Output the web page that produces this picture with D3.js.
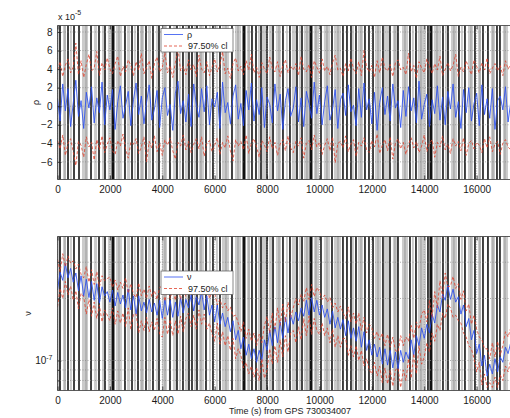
<!DOCTYPE html>
<html>
<head>
<meta charset="utf-8">
<script src="https://cdn.jsdelivr.net/npm/d3@7/dist/d3.min.js"></script>
<style>
  html, body { margin: 0; padding: 0; background: #fff; }
  svg { display: block; }
  text { font-family: "Liberation Sans", Arial, Helvetica, sans-serif; fill: #1a1a1a; }
</style>
</head>
<body>
<svg id="chart" width="510" height="418"></svg>
<script>
// ---- data -------------------------------------------------------------
// sample spacing of the time series (s)
const sampleStep = 100;

// rho estimate (x 1e-5), one value per sample
const rho = [
0.8,-1.6,2.4,-0.5,1.9,-2.2,0.3,2.8,-1.1,0.6,
-2.4,1.5,-0.2,2.1,-1.8,0.9,-0.7,2.6,-2.0,1.2,
-0.4,1.8,-2.5,0.5,2.2,-1.3,0.1,1.6,-2.1,0.7,
2.5,-0.9,1.1,-1.9,0.4,2.3,-1.5,-0.3,1.7,-2.3,
0.9,2.0,-1.0,0.2,-2.6,1.4,2.7,-0.8,0.6,-1.7,
1.3,-2.2,2.4,0.1,-1.2,1.9,-0.6,2.2,-2.0,0.8,
-0.1,1.5,-2.4,2.6,-0.7,0.4,-1.9,1.1,2.3,-1.4,
0.3,-2.1,1.7,-0.4,2.5,-1.6,0.7,-0.9,2.0,-2.3,
1.0,0.2,-1.8,2.4,-0.5,1.3,-2.5,0.6,1.9,-1.1,
-0.2,2.1,-1.7,0.9,-2.2,1.6,0.3,-1.3,2.6,-0.8,
1.2,-2.0,0.5,2.2,-1.5,-0.3,1.8,-2.4,0.7,1.4,
-1.0,2.3,-0.6,0.1,-2.1,1.9,-1.2,2.5,-0.4,0.8,
-1.9,1.5,-2.6,0.4,2.0,-0.9,1.1,-1.6,2.4,-0.2,
0.6,-2.3,1.7,-1.1,2.1,-0.5,0.9,-1.8,2.7,-1.4,
0.2,1.3,-2.2,0.7,-0.8,2.2,-1.5,1.0,-2.0,1.6,
-0.3,2.4,-1.2,0.5,-2.4,1.8,-0.7,2.0,-1.6,0.3,
1.4,-2.1,2.3,-0.9,0.8,-1.3,1.9,-2.5,0.6,1.1,
-0.4,2.1,-1.7,0.4
];
// upper 97.5% confidence limit on rho (x 1e-5)
const rhoHi = [
3.9,4.8,3.2,4.4,5.1,3.6,4.2,6.8,3.4,4.9,
3.1,4.5,5.6,3.8,4.1,5.9,3.3,4.7,3.9,5.2,
4.0,3.5,4.6,5.4,3.2,4.3,3.7,5.0,4.4,3.3,
4.8,3.9,5.7,3.5,4.2,4.9,3.0,4.6,5.3,3.7,
4.1,5.8,3.6,4.4,3.1,4.7,6.2,3.8,4.3,3.4,
5.0,3.9,4.5,3.2,5.5,4.0,3.6,4.8,3.3,4.2,
5.1,3.7,4.4,5.9,3.5,4.1,3.0,4.6,5.2,3.8,
4.3,3.4,4.9,3.9,5.6,3.6,4.2,3.1,4.7,4.0,
3.5,5.3,4.1,3.7,4.8,3.2,4.4,5.0,3.6,4.3,
3.9,4.6,3.3,5.4,4.0,3.7,4.5,3.1,4.9,4.2,
3.6,5.1,3.8,4.3,3.4,4.7,5.5,3.9,4.1,3.2,
4.6,3.8,5.2,4.0,3.5,4.8,3.3,6.0,4.2,3.7,
4.4,3.1,4.9,3.6,5.3,4.1,3.8,4.5,3.2,4.7,
5.0,3.9,4.2,3.4,5.7,3.7,4.4,3.0,4.8,4.1,
3.6,5.1,4.3,3.5,4.6,3.9,5.4,3.3,4.0,4.7,
3.8,4.4,5.6,3.2,4.2,3.7,4.9,4.1,3.4,5.0,
4.3,3.6,4.7,3.9,5.2,3.5,4.1,4.6,3.8,4.4,
3.3,4.9,4.0,4.5
];
// lower 97.5% confidence limit on rho (x 1e-5)
const rhoLo = [
-3.7,-4.6,-3.1,-5.3,-4.0,-3.5,-4.9,-6.4,-3.8,-4.2,
-5.5,-3.3,-4.4,-3.9,-5.8,-3.6,-4.7,-3.2,-5.0,-4.1,
-3.4,-4.8,-5.2,-3.7,-4.3,-3.0,-4.6,-5.6,-3.9,-4.1,
-3.5,-5.1,-4.4,-3.3,-6.0,-3.8,-4.5,-3.2,-4.9,-4.0,
-5.3,-3.6,-4.2,-3.4,-4.8,-5.7,-3.9,-4.3,-3.1,-4.7,
-3.8,-5.0,-4.1,-3.5,-4.6,-3.3,-5.4,-4.0,-3.7,-4.9,
-4.2,-3.4,-5.2,-3.9,-4.5,-3.2,-4.8,-5.9,-3.6,-4.3,
-3.8,-4.7,-3.1,-5.1,-4.0,-3.5,-4.4,-5.5,-3.7,-4.2,
-4.9,-3.3,-4.6,-3.9,-5.3,-4.1,-3.6,-4.8,-3.2,-4.5,
-5.0,-3.8,-4.3,-3.4,-5.6,-4.0,-3.7,-4.7,-3.1,-4.4,
-3.9,-5.2,-4.2,-3.5,-4.8,-3.3,-6.1,-4.0,-3.8,-4.5,
-3.2,-4.9,-4.1,-3.6,-5.4,-3.9,-4.3,-3.4,-4.7,-5.0,
-3.7,-4.4,-3.0,-5.1,-4.2,-3.6,-4.8,-3.3,-5.7,-4.0,
-3.5,-4.6,-3.9,-5.2,-4.1,-3.4,-4.5,-3.8,-5.0,-4.3,
-3.1,-4.9,-4.0,-3.6,-5.5,-3.9,-4.4,-3.2,-4.7,-4.1,
-5.1,-3.5,-4.3,-3.8,-4.8,-3.4,-5.3,-4.0,-3.7,-4.6,
-3.9,-4.2,-5.0,-3.5,-4.5,-3.3,-4.9,-4.1,-3.8,-5.2,
-4.0,-3.6,-4.4,-4.7
];

// nu estimate (x 1e-7)
const nu = [
2.20,2.68,2.45,2.95,2.52,2.80,2.40,2.66,2.18,2.58,
2.05,2.48,2.02,2.42,1.96,2.36,1.90,2.28,2.06,2.16,
1.92,2.20,1.84,2.14,1.88,2.08,1.80,2.22,1.76,2.06,
1.68,2.06,1.74,1.92,1.70,1.98,1.72,1.90,1.66,1.96,
1.60,1.98,1.66,1.96,1.62,1.92,1.64,2.02,1.70,1.98,
1.80,2.08,1.74,2.04,1.86,2.16,1.76,2.06,1.66,1.86,
1.54,1.86,1.50,1.70,1.46,1.62,1.38,1.56,1.26,1.40,
1.14,1.30,1.06,1.20,1.02,1.14,0.98,1.12,1.00,1.26,
1.12,1.40,1.18,1.46,1.22,1.54,1.28,1.62,1.36,1.66,
1.50,1.72,1.56,1.80,1.64,1.96,1.66,2.02,1.72,1.96,
1.66,1.86,1.62,1.78,1.50,1.74,1.44,1.62,1.42,1.58,
1.32,1.56,1.28,1.44,1.24,1.46,1.16,1.38,1.12,1.26,
1.06,1.20,1.04,1.16,0.96,1.14,0.95,1.12,0.92,1.10,
0.91,1.12,0.98,1.10,1.02,1.26,1.06,1.32,1.18,1.44,
1.28,1.50,1.36,1.68,1.52,1.86,1.72,2.10,1.96,2.32,
1.98,2.22,1.92,2.04,1.68,1.86,1.46,1.60,1.26,1.40,
1.08,1.20,0.94,1.06,0.84,0.96,0.86,1.02,0.88,1.04,
0.98,1.16,1.08,1.22
];
// upper 97.5% confidence limit on nu (x 1e-7)
const nuHi = [
3.10,2.70,3.30,2.85,3.22,2.96,3.05,2.78,2.94,2.62,
2.52,2.86,2.40,2.76,2.34,2.70,2.28,2.58,2.44,2.50,
2.54,2.26,2.46,2.20,2.40,2.24,2.52,2.12,2.36,2.10,
2.02,2.38,2.06,2.22,2.00,2.30,2.04,2.18,1.98,2.26,
2.30,1.94,2.24,2.00,2.22,1.96,2.34,1.98,2.28,2.04,
2.16,2.40,2.08,2.36,2.20,2.48,2.10,2.38,2.00,2.16,
2.14,1.86,1.98,1.80,1.90,1.74,1.82,1.64,1.66,1.52,
1.38,1.54,1.28,1.42,1.24,1.36,1.18,1.34,1.22,1.48,
1.64,1.36,1.70,1.42,1.80,1.48,1.88,1.54,1.92,1.62,
1.80,2.00,1.86,2.10,1.94,2.26,1.98,2.34,2.04,2.26,
2.16,1.98,2.08,1.92,2.02,1.80,1.90,1.72,1.84,1.70,
1.60,1.82,1.54,1.70,1.50,1.70,1.40,1.62,1.36,1.50,
1.44,1.28,1.38,1.26,1.36,1.18,1.34,1.16,1.30,1.12,
1.10,1.32,1.18,1.30,1.24,1.48,1.28,1.54,1.42,1.68,
1.76,1.54,1.96,1.62,2.16,1.80,2.44,2.02,2.66,2.28,
2.30,2.56,2.24,2.36,1.98,2.18,1.74,1.88,1.50,1.66,
1.42,1.30,1.26,1.14,1.14,1.02,1.22,1.04,1.24,1.06,
1.18,1.38,1.30,1.44
];
// lower 97.5% confidence limit on nu (x 1e-7)
const nuLo = [
1.82,2.24,2.00,2.42,2.08,2.30,1.96,2.18,1.78,2.12,
2.04,1.68,1.98,1.64,1.92,1.60,1.86,1.54,1.76,1.66,
1.56,1.80,1.50,1.74,1.52,1.70,1.46,1.80,1.42,1.68,
1.68,1.36,1.56,1.40,1.62,1.38,1.54,1.40,1.60,1.34,
1.30,1.62,1.34,1.58,1.32,1.56,1.34,1.64,1.38,1.60,
1.70,1.46,1.66,1.42,1.76,1.50,1.68,1.42,1.52,1.34,
1.24,1.52,1.20,1.38,1.18,1.32,1.12,1.28,1.02,1.14,
1.06,0.92,0.98,0.86,0.94,0.83,0.92,0.80,1.02,0.82,
0.90,1.14,0.96,1.18,0.98,1.26,1.04,1.32,1.10,1.36,
1.40,1.22,1.46,1.26,1.60,1.32,1.64,1.34,1.60,1.40,
1.34,1.52,1.32,1.44,1.22,1.42,1.16,1.32,1.16,1.28,
1.28,1.06,1.18,1.04,1.18,1.00,1.12,0.94,1.02,0.90,
0.86,0.98,0.84,0.94,0.78,0.92,0.77,0.90,0.75,0.90,
0.92,0.74,0.90,0.80,1.02,0.82,1.08,0.86,1.18,0.96,
1.04,1.22,1.10,1.36,1.24,1.50,1.40,1.70,1.60,1.88,
1.80,1.62,1.66,1.56,1.52,1.36,1.30,1.18,1.14,1.02,
0.88,0.98,0.76,0.86,0.74,0.78,0.74,0.83,0.74,0.85,
0.80,0.94,0.88,1.00
];

// flagged segments (s): shaded bands, light marks and heavy marks
const grayBands = [
[0,130],[210,320],[935,1165],[1395,1510],[1925,2040],[2235,2460],[2655,2770],
[3150,3300],[3455,3570],[3990,4180],[4410,4525],[4865,4980],[5210,5290],
[5400,5590],[6280,6545],[6775,7005],[7235,7350],[7805,7960],[8075,8190],
[8340,8530],[8950,9105],[9410,9600],[9790,9980],[10170,10400],[10555,10820],
[11470,11660],[12120,12350],[12540,12655],[12805,12960],[13150,13380],
[13760,14065],[14370,14640],[15020,15250],[15670,15860],[16050,16165],
[16545,16700],[17005,17195]
];
const thinLines = [
286,515,1088,1737,2347,2958,3225,3798,4103,4676,5477,5821,6088,6432,6890,
7310,7691,8455,8760,9256,9523,9867,10287,10707,11279,11585,12234,12501,
12882,13264,13569,13875,14486,14829,15134,15440,15783,16127,16623,17081
];
const blackLines = [
95,401,630,821,1279,1584,1813,2576,2844,3073,3378,3645,3874,4294,4561,
4790,5019,5134,5325,5668,5935,6203,6661,7424,7577,7768,7997,8227,8607,
8874,9142,9333,10058,10478,10897,11050,11203,11394,11737,11890,12044,
12424,12692,12997,13455,13684,14142,14715,14906,15325,15554,15936,16242,
16432,16776,16890
];
const heavyLines = [2118, 7119, 9676, 14256];

// axis ticks
const xTicks = [0,2000,4000,6000,8000,10000,12000,14000,16000];
const rhoTicks = [-6,-4,-2,0,2,4,6,8];
const nuGrid = [8e-8, 9e-8, 1e-7, 2e-7, 3e-7, 4e-7];
const nuLabelTicks = [1e-7];

const legendTop = ["ρ", "97.50% cl"];
const legendBottom = ["ν", "97.50% cl"];
const xTitle = "Time (s) from GPS 730034007";

// ---- drawing ----------------------------------------------------------
const svg = d3.select("#chart");
const times = rho.map((_, i) => i * sampleStep);

const x = d3.scaleLinear().domain([0, 17300]).range([57.5, 510.7]);

const BLUE = "#2b4ff0";
const RED = "#e0402c";

function panel(cfg) {
  const g = svg.append("g");
  const [y0, y1] = cfg.y.range();   // bottom, top
  const x0 = x.range()[0], x1 = x.range()[1];

  const clipId = "clip" + cfg.id;
  svg.append("clipPath").attr("id", clipId)
    .append("rect").attr("x", x0).attr("y", y1).attr("width", x1 - x0).attr("height", y0 - y1);

  const plot = g.append("g").attr("clip-path", `url(#${clipId})`);
  plot.append("rect").attr("x", x0).attr("y", y1).attr("width", x1 - x0).attr("height", y0 - y1).attr("fill", "#fff");

  plot.selectAll("rect.band").data(grayBands).join("rect")
    .attr("class", "band")
    .attr("x", d => x(d[0])).attr("width", d => Math.max(1, x(d[1]) - x(d[0])))
    .attr("y", y1).attr("height", y0 - y1)
    .attr("fill", "#cbcbcb");

  plot.selectAll("line.thin").data(thinLines).join("line")
    .attr("class", "thin")
    .attr("x1", d => x(d)).attr("x2", d => x(d)).attr("y1", y1).attr("y2", y0)
    .attr("stroke", "#9a9a9a").attr("stroke-width", 1);

  plot.selectAll("line.black").data(blackLines).join("line")
    .attr("class", "black")
    .attr("x1", d => x(d)).attr("x2", d => x(d)).attr("y1", y1).attr("y2", y0)
    .attr("stroke", "#222").attr("stroke-width", 1.7);

  plot.selectAll("line.heavy").data(heavyLines).join("line")
    .attr("class", "heavy")
    .attr("x1", d => x(d)).attr("x2", d => x(d)).attr("y1", y1).attr("y2", y0)
    .attr("stroke", "#111").attr("stroke-width", 3);

  // grid
  plot.selectAll("line.hgrid").data(cfg.grid).join("line")
    .attr("class", "hgrid")
    .attr("x1", x0).attr("x2", x1).attr("y1", d => cfg.y(d)).attr("y2", d => cfg.y(d))
    .attr("stroke", "#8a8a8a").attr("stroke-width", 0.7).attr("stroke-dasharray", "1,1.5");
  plot.selectAll("line.vgrid").data(xTicks).join("line")
    .attr("class", "vgrid")
    .attr("x1", d => x(d)).attr("x2", d => x(d)).attr("y1", y1).attr("y2", y0)
    .attr("stroke", "#8a8a8a").attr("stroke-width", 0.7).attr("stroke-dasharray", "1,1.5");

  // series
  const line = vals => d3.line().x((d, i) => x(times[i])).y(d => cfg.y(d * cfg.unit))(vals);
  plot.append("path").attr("d", line(cfg.main)).attr("fill", "none")
    .attr("stroke", BLUE).attr("stroke-width", 0.85).attr("stroke-linejoin", "round");
  [cfg.hi, cfg.lo].forEach(v => {
    plot.append("path").attr("d", line(v)).attr("fill", "none")
      .attr("stroke", RED).attr("stroke-width", 0.8).attr("stroke-dasharray", "3,2");
  });

  // axes
  const ax = g.append("g").attr("class", "axes").style("font-size", "9px");
  ax.append("g").attr("transform", `translate(0,${y0})`)
    .call(d3.axisBottom(x).tickValues(xTicks).tickSize(-4).tickPadding(6).tickFormat(d3.format("d")));
  ax.append("g").attr("transform", `translate(0,${y1})`)
    .call(d3.axisTop(x).tickValues(xTicks).tickSize(-4).tickFormat(() => ""));
  const left = ax.append("g").attr("transform", `translate(${x0},0)`)
    .call(d3.axisLeft(cfg.y).tickValues(cfg.leftTicks).tickSize(-4).tickPadding(5).tickFormat(cfg.fmt));
  if (cfg.minor) {
    ax.append("g").attr("transform", `translate(${x0},0)`)
      .call(d3.axisLeft(cfg.y).tickValues(cfg.minor).tickSize(-2.5).tickFormat(() => ""));
  }
  ax.selectAll(".domain").remove();
  ax.selectAll(".tick line").attr("stroke", "#222").attr("stroke-width", 0.8);
  ax.selectAll("text").attr("fill", "#1a1a1a").style("font-family", '"Liberation Sans", Arial, sans-serif');

  // frame (left, top, bottom edges)
  g.append("path")
    .attr("d", `M${x1},${y1}H${x0}V${y0}H${x1}`)
    .attr("fill", "none").attr("stroke", "#333").attr("stroke-width", 0.8);

  // legend
  const lg = g.append("g").attr("transform", `translate(161,${cfg.legendY})`);
  lg.append("rect").attr("x", 0).attr("y", 0).attr("width", 72).attr("height", 23.5)
    .attr("fill", "#fff").attr("stroke", "#555").attr("stroke-width", 0.7);
  lg.append("line").attr("x1", 3).attr("x2", 22).attr("y1", 6).attr("y2", 6)
    .attr("stroke", BLUE).attr("stroke-width", 0.8);
  lg.append("line").attr("x1", 3).attr("x2", 22).attr("y1", 17.5).attr("y2", 17.5)
    .attr("stroke", RED).attr("stroke-width", 0.8).attr("stroke-dasharray", "3,2");
  lg.append("text").attr("x", 26).attr("y", 9).style("font-size", "9px").text(cfg.legend[0]);
  lg.append("text").attr("x", 27).attr("y", 20.5).style("font-size", "9px").text(cfg.legend[1]);

  // y label
  g.append("text")
    .attr("transform", `translate(${cfg.ylabelX},${(y0 + y1) / 2}) rotate(-90)`)
    .attr("text-anchor", "middle").style("font-size", "9px").text(cfg.legend[0]);

  return { g, left };
}

// upper panel: rho
const yRho = d3.scaleLinear().domain([-7.9, 8.7]).range([179.5, 25.5]);
panel({
  id: "rho", y: yRho, unit: 1, main: rho, hi: rhoHi, lo: rhoLo,
  grid: rhoTicks, leftTicks: rhoTicks, fmt: d3.format("d"),
  legend: legendTop, legendY: 28.5, ylabelX: 39
});
// exponent note
const expo = svg.append("text").attr("x", 58).attr("y", 20).style("font-size", "9px");
expo.append("tspan").text("x 10");
expo.append("tspan").attr("dy", -5).style("font-size", "7px").text("-5");

// lower panel: nu (log scale)
const yNu = d3.scaleLog().domain([7.15e-8, 4.0e-7]).range([390.5, 236.5]);
const lower = panel({
  id: "nu", y: yNu, unit: 1e-7, main: nu, hi: nuHi, lo: nuLo,
  grid: nuGrid, leftTicks: nuLabelTicks, fmt: () => "", minor: [8e-8, 9e-8, 2e-7, 3e-7],
  legend: legendBottom, legendY: 271, ylabelX: 31
});
lower.left.selectAll(".tick text").each(function () {
  const t = d3.select(this).text(null);
  t.append("tspan").text("10");
  t.append("tspan").attr("dy", "-0.6em").style("font-size", "7px").text("-7");
});

// x axis title
svg.append("text").attr("x", 290).attr("y", 414)
  .attr("text-anchor", "middle").style("font-size", "9px").text(xTitle);
</script>
</body>
</html>
